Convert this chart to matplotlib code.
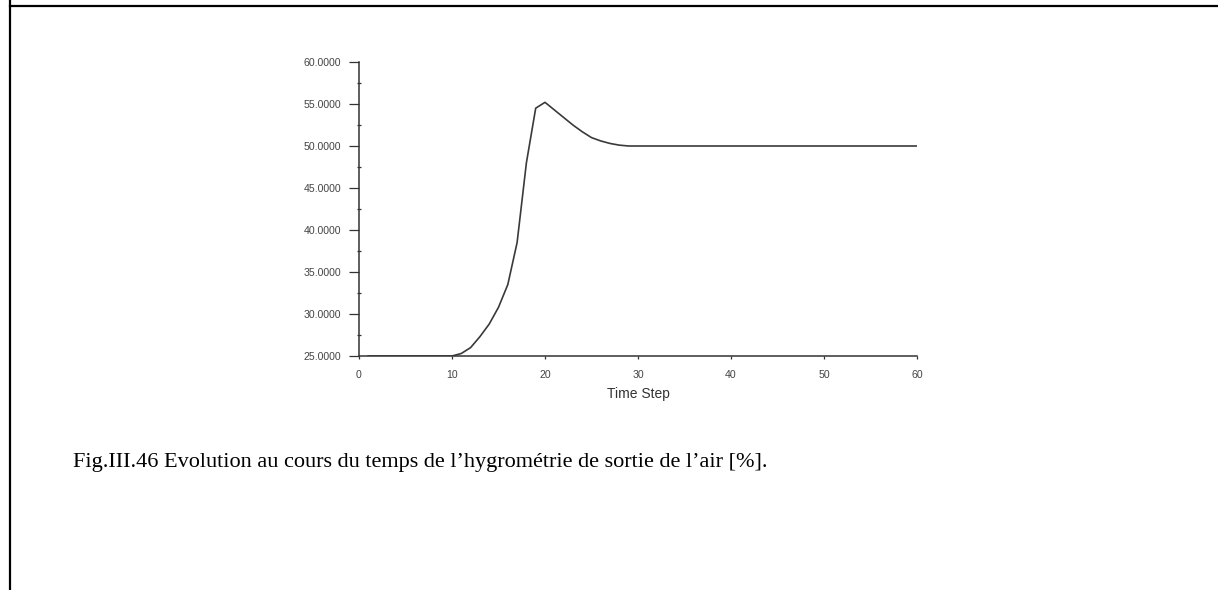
import numpy as np
import matplotlib.pyplot as plt
from matplotlib.lines import Line2D
from matplotlib.ticker import MultipleLocator, FormatStrFormatter

# outlet air hygrometry per time step
time_step = np.arange(1, 61)
hygro = [25.0] * 10 + [
    25.3, 26.0, 27.3, 28.8, 30.8, 33.5, 38.5, 48.0, 54.5, 55.2,
    54.3, 53.4, 52.5, 51.7, 51.0, 50.6, 50.3, 50.1, 50.0,
] + [50.0] * 31

Y_TICKS = [25, 30, 35, 40, 45, 50, 55, 60]
X_TICKS = [0, 10, 20, 30, 40, 50, 60]
CAPTION = "Fig.III.46 Evolution au cours du temps de l\u2019hygrom\u00e9trie de sortie de l\u2019air [%]."

fig = plt.figure(figsize=(12.18, 5.90), dpi=100)
ax = fig.add_axes([359 / 1218, 1 - 356 / 590, (917 - 359) / 1218, (356 - 62) / 590])

ax.plot(time_step, hygro, color='#3a3a3a', lw=1.2)
ax.set_xlim(0, 60)
ax.set_ylim(25, 60)
ax.set_xticks(X_TICKS)
ax.set_yticks(Y_TICKS)
ax.yaxis.set_minor_locator(MultipleLocator(2.5))
ax.yaxis.set_major_formatter(FormatStrFormatter('%.4f'))
ax.spines[['top', 'right']].set_visible(False)
for s in ('left', 'bottom'):
    ax.spines[s].set_color('#333333')
    ax.spines[s].set_linewidth(1.1)
ax.tick_params(axis='y', which='major', length=7, width=0.9, color='#333333',
               labelsize=7.6, labelcolor='#444444', pad=6)
ax.tick_params(axis='y', which='minor', length=3, width=0.9, color='#333333', direction='inout')
ax.tick_params(axis='x', which='major', length=2, width=0.9, color='#333333',
               labelsize=7.6, labelcolor='#444444', pad=8)
for lab in ax.get_xticklabels() + ax.get_yticklabels():
    lab.set_family('Liberation Sans')
ax.set_xlabel('Time Step', fontsize=10, family='Liberation Sans', color='#333333', labelpad=5)

# page frame lines (top and left)
fig.add_artist(Line2D([9.5 / 1218, 1], [1 - 5.5 / 590, 1 - 5.5 / 590],
                      transform=fig.transFigure, color='black', lw=1.6))
fig.add_artist(Line2D([10 / 1218, 10 / 1218], [0, 1],
                      transform=fig.transFigure, color='black', lw=1.6))

fig.text(73 / 1218, 1 - 462 / 590, CAPTION, fontsize=16, family='Liberation Serif',
         va='center', ha='left', color='black')

fig.savefig('out.png', dpi=100)
